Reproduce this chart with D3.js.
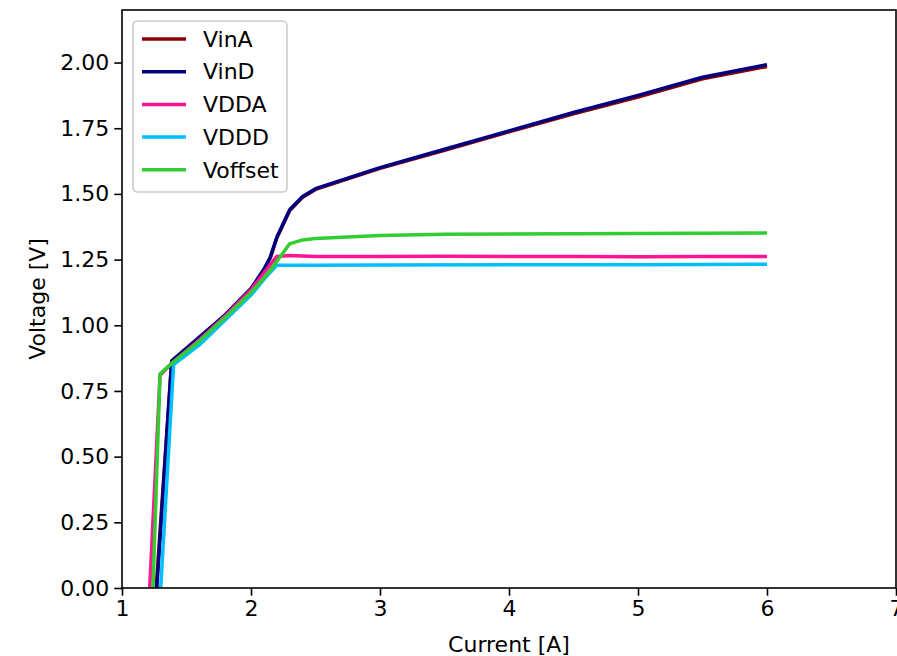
<!DOCTYPE html>
<html>
<head>
<meta charset="utf-8">
<script src="https://cdn.jsdelivr.net/npm/d3@7"></script>
<style>
  html, body { margin: 0; padding: 0; background: #fff; }
  svg { display: block; font-family: "DejaVu Sans", sans-serif; }
</style>
</head>
<body>
<div id="chart"></div>
<script>
const seriesNames = ['VinA', 'VinD', 'VDDA', 'VDDD', 'Voffset'];
const seriesColors = ['#8b0000', '#000080', '#ff1493', '#00bfff', '#32cd32'];

const vinACurrent = [1.265, 1.385, 1.6, 1.8, 2.0, 2.1, 2.15, 2.2, 2.3, 2.4, 2.5, 3.0, 3.5, 4.0, 4.5, 5.0, 5.5, 6.0];
const vinAVoltage = [0, 0.862, 0.952, 1.037, 1.137, 1.21, 1.257, 1.332, 1.437, 1.487, 1.517, 1.597, 1.666, 1.736, 1.805, 1.869, 1.938, 1.985];

const vinDCurrent = [1.27, 1.385, 1.6, 1.8, 2.0, 2.1, 2.15, 2.2, 2.3, 2.4, 2.5, 3.0, 3.5, 4.0, 4.5, 5.0, 5.5, 6.0];
const vinDVoltage = [0, 0.865, 0.955, 1.04, 1.14, 1.213, 1.26, 1.335, 1.44, 1.49, 1.52, 1.60, 1.67, 1.74, 1.81, 1.875, 1.944, 1.992];

const vddaCurrent = [1.215, 1.295, 1.385, 1.6, 1.8, 2.0, 2.1, 2.2, 2.3, 2.5, 3.0, 3.5, 4.0, 4.5, 5.0, 5.5, 6.0];
const vddaVoltage = [0, 0.81, 0.855, 0.945, 1.035, 1.135, 1.20, 1.262, 1.266, 1.262, 1.262, 1.263, 1.262, 1.262, 1.261, 1.262, 1.262];

const vdddCurrent = [1.30, 1.40, 1.6, 1.8, 2.0, 2.1, 2.2, 2.5, 3.0, 4.0, 5.0, 6.0];
const vdddVoltage = [0, 0.85, 0.925, 1.02, 1.115, 1.175, 1.228, 1.228, 1.229, 1.23, 1.23, 1.232];

const voffCurrent = [1.24, 1.295, 1.385, 1.6, 1.8, 2.0, 2.1, 2.15, 2.3, 2.4, 2.5, 3.0, 3.5, 4.0, 5.0, 6.0];
const voffVoltage = [0, 0.815, 0.855, 0.94, 1.03, 1.125, 1.18, 1.21, 1.31, 1.325, 1.33, 1.342, 1.346, 1.347, 1.349, 1.351];

const xTicks = [1, 2, 3, 4, 5, 6, 7];
const yTicks = [0, 0.25, 0.5, 0.75, 1.0, 1.25, 1.5, 1.75, 2.0];

const xLabel = 'Current [A]';
const yLabel = 'Voltage [V]';

// 레이아웃
const width = 897, height = 656;
const margin = { top: 10, left: 122, right: 1, bottom: 68 };
const plotW = width - margin.left - margin.right;
const plotH = height - margin.top - margin.bottom;
const fontSize = 22;

const seriesData = [
    [vinACurrent, vinAVoltage],
    [vinDCurrent, vinDVoltage],
    [vddaCurrent, vddaVoltage],
    [vdddCurrent, vdddVoltage],
    [voffCurrent, voffVoltage]
].map(([xs, ys], i) => ({
    name: seriesNames[i],
    color: seriesColors[i],
    points: xs.map((x, j) => ({ x: x, y: ys[j] }))
}));

const svg = d3.select('#chart')
    .append('svg')
    .attr('width', width)
    .attr('height', height);

const x = d3.scaleLinear().domain([1, 7]).range([0, plotW]);
const y = d3.scaleLinear().domain([0, 2.2]).range([plotH, 0]);

const g = svg.append('g')
    .attr('transform', `translate(${margin.left},${margin.top})`);

g.append('clipPath')
    .attr('id', 'plot-clip')
    .append('rect')
    .attr('width', plotW)
    .attr('height', plotH);

// 데이터 라인
const line = d3.line()
    .x(d => x(d.x))
    .y(d => y(d.y));

g.append('g')
    .attr('clip-path', 'url(#plot-clip)')
    .selectAll('path')
    .data(seriesData)
    .join('path')
    .attr('d', d => line(d.points))
    .style('fill', 'none')
    .style('stroke', d => d.color)
    .style('stroke-width', 3.5)
    .style('stroke-linejoin', 'round')
    .style('stroke-linecap', 'butt');

// 축
const xAxis = d3.axisBottom(x)
    .tickValues(xTicks)
    .tickFormat(d3.format('d'))
    .tickSize(7.7)
    .tickPadding(5);

const yAxis = d3.axisLeft(y)
    .tickValues(yTicks)
    .tickFormat(d3.format('.2f'))
    .tickSize(7.7)
    .tickPadding(5);

const gx = g.append('g')
    .attr('transform', `translate(0,${plotH})`)
    .call(xAxis);
const gy = g.append('g').call(yAxis);

[gx, gy].forEach(ax => {
    ax.select('.domain').remove();
    ax.selectAll('.tick line').style('stroke', '#000').style('stroke-width', 1.6);
    ax.selectAll('.tick text')
        .style('font-family', '"DejaVu Sans", sans-serif')
        .style('font-size', fontSize + 'px')
        .style('fill', '#000');
});

// 테두리
g.append('rect')
    .attr('width', plotW)
    .attr('height', plotH)
    .style('fill', 'none')
    .style('stroke', '#000')
    .style('stroke-width', 1.6);

// 축 라벨
svg.append('text')
    .attr('x', margin.left + x(4))
    .attr('y', 652)
    .attr('text-anchor', 'middle')
    .style('font-size', fontSize + 'px')
    .text(xLabel);

svg.append('text')
    .attr('transform', `translate(45,${margin.top + y(1.1)}) rotate(-90)`)
    .attr('text-anchor', 'middle')
    .style('font-size', fontSize + 'px')
    .text(yLabel);

// 범례
const legendX = 11, legendY = 11;
const rowH = 32.7;
const legend = g.append('g').attr('transform', `translate(${legendX},${legendY})`);

legend.append('rect')
    .attr('width', 154)
    .attr('height', 171)
    .attr('rx', 4.4)
    .style('fill', 'rgba(255,255,255,0.8)')
    .style('stroke', '#cccccc')
    .style('stroke-width', 1.6);

const items = legend.selectAll('.legend-item')
    .data(seriesData)
    .join('g')
    .attr('class', 'legend-item')
    .attr('transform', (d, i) => `translate(0,${18 + i * rowH})`);

items.append('line')
    .attr('x1', 9)
    .attr('x2', 53)
    .style('stroke', d => d.color)
    .style('stroke-width', 3.5);

items.append('text')
    .attr('x', 70)
    .attr('dy', '0.35em')
    .style('font-size', fontSize + 'px')
    .text(d => d.name);
</script>
</body>
</html>
